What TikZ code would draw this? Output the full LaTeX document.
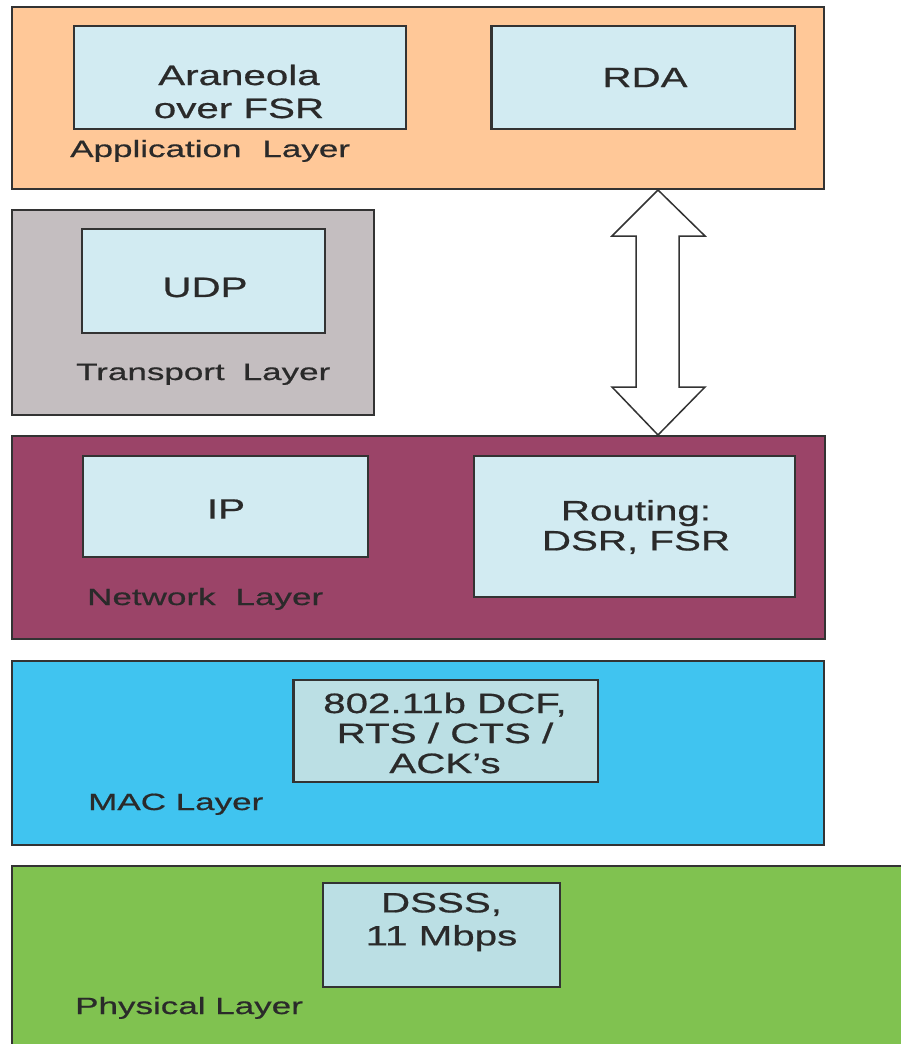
\documentclass[tikz,border=0pt]{standalone}
\usepackage{fontspec}
\setmainfont{Liberation Sans}
\newfontfamily\boxfont{Liberation Sans}[FakeStretch=1.44,FakeBold=0.7]
\newfontfamily\tagfont{Liberation Sans}[FakeStretch=1.49,FakeBold=0.7]
\usetikzlibrary{fit}

\definecolor{edge}{HTML}{333333}
\definecolor{ink}{HTML}{2A2A2A}
\definecolor{appfill}{HTML}{FFC898}
\definecolor{transfill}{HTML}{C4BEC0}
\definecolor{netfill}{HTML}{9B4468}
\definecolor{macfill}{HTML}{40C4F0}
\definecolor{phyfill}{HTML}{80C250}
\definecolor{protoA}{HTML}{D2EBF2}
\definecolor{protoB}{HTML}{BBDFE4}

\begin{document}
\begin{tikzpicture}[x=1pt,y=-1pt,
  layerbox/.style={draw=edge, line width=2pt, inner sep=0pt},
  protobox/.style={draw=edge, line width=2pt, inner sep=0pt},
  prototext/.style={inner sep=0pt, align=center, text=ink,
    font=\boxfont\fontsize{28}{#1}\selectfont},
  prototext/.default=33,
  layertag/.style={inner sep=0pt, anchor=base west, text=ink,
    font=\tagfont\fontsize{23.5}{28}\selectfont},
  blockarrow/.style={draw=edge, fill=white, line width=1.5pt, line join=miter}]

% page
\fill[white] (0,0) rectangle (901,1044);
\useasboundingbox (0,0) rectangle (901,1044);
\clip (0,0) rectangle (901,1044);

% application layer
\node[layerbox, fill=appfill, fit={(12,7) (824,189)}] (app) {};
\node[protobox, fill=protoA, fit={(74,26) (406,129)}] (araneola) {};
\node[protobox, fill=protoA, fit={(492,26) (795,129)}] (rda) {};
\draw[edge, line width=3pt] (rda.north west) -- (rda.south west);
\node[prototext] (araneolaT) at (239,91.5) {Araneola\\over FSR};
\node[prototext] (rdaT) at (645,77.5) {RDA};
\node[layertag] (appT) at (70,157) {Application\hspace{21pt}Layer};

% transport layer
\node[layerbox, fill=transfill, fit={(12,210) (374,415)}] (trans) {};
\node[protobox, fill=protoA, fit={(82,229) (325,333)}] (udp) {};
\node[prototext] (udpT) at (205,287.5) {UDP};
\node[layertag] (transT) at (76,380) {Transport\hspace{18pt}Layer};

% network layer
\node[layerbox, fill=netfill, fit={(12,436) (825,639)}] (net) {};
\node[protobox, fill=protoA, fit={(83,456) (368,557)}] (ip) {};
\node[protobox, fill=protoA, fit={(474,456) (795,597)}] (routing) {};
\node[prototext] (ipT) at (226,509) {IP};
\node[prototext=30] (routingT) at (636,527) {Routing:\\DSR, FSR};
\node[layertag] (netT) at (87,605) {Network\hspace{20pt}Layer};

% MAC layer
\node[layerbox, fill=macfill, fit={(12,661) (824,845)}] (mac) {};
\node[protobox, fill=protoB, fit={(294,680) (598,782)}] (dcf) {};
\draw[edge, line width=3pt] (dcf.north west) -- (dcf.south west);
\node[prototext=30] (dcfT) at (445,733) {802.11b DCF,\\RTS / CTS /\\ACK’s};
\node[layertag] (macT) at (88,810) {MAC Layer};

% physical layer
\node[layerbox, fill=phyfill, fit={(12,866) (912,1060)}] (phy) {};
\node[protobox, fill=protoB, fit={(323,883) (560,987)}] (dsss) {};
\node[prototext] (dsssT) at (441.5,922) {DSSS,\\11 Mbps};
\node[layertag] (phyT) at (75,1014) {Physical Layer};

% two-way block arrow between application and network layers
\coordinate (atop) at (658,190);
\coordinate (abot) at (658,435);
\draw[blockarrow] (atop) -- ++(-46,46) -- ++(24,0) -- ++(0,151)
  -- ++(-24,0) -- (abot) -- ++(47,-48) -- ++(-26,0) -- ++(0,-151)
  -- ++(26,0) -- cycle;
\end{tikzpicture}
\end{document}
